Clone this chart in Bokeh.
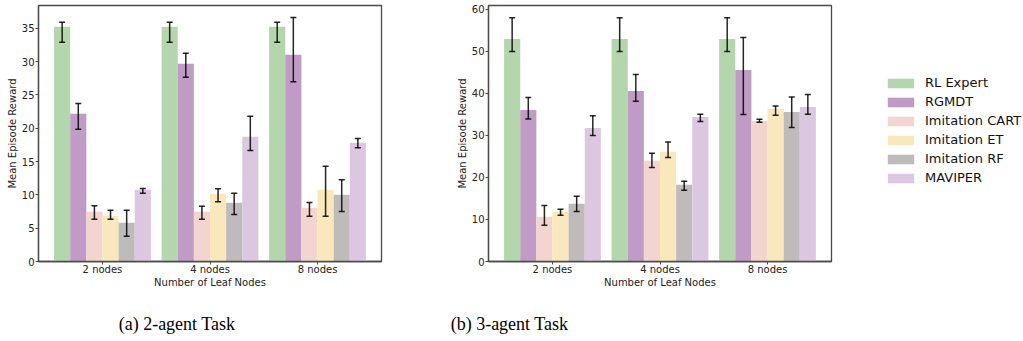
from bokeh.plotting import figure
from bokeh.models import (Range1d, FixedTicker, Whisker, ColumnDataSource, Legend,
                          LegendItem, TeeHead, Label)
from bokeh.transform import dodge
from bokeh.layouts import row, column
from bokeh.embed import file_html
from bokeh.resources import INLINE

# ---------------- data ----------------
groups = ["2 nodes", "4 nodes", "8 nodes"]
methods = ["RL Expert", "RGMDT", "Imitation CART", "Imitation ET", "Imitation RF", "MAVIPER"]
colors = ["#b3d6ac", "#c09bc5", "#f3d5cf", "#f9e8bb", "#c0bbbb", "#dbc8e0"]
captions = ["(a) 2-agent Task", "(b) 3-agent Task"]

# 2-agent task: mean, lower and upper end of error bars
task2_mean = {
    "RL Expert":      [35.2, 35.2, 35.2],
    "RGMDT":          [22.15, 29.65, 31.0],
    "Imitation CART": [7.45, 7.45, 8.05],
    "Imitation ET":   [6.85, 10.15, 10.75],
    "Imitation RF":   [5.8, 8.8, 10.0],
    "MAVIPER":        [10.75, 18.7, 17.8],
}
task2_low = {
    "RL Expert":      [32.9, 32.9, 32.9],
    "RGMDT":          [19.85, 27.65, 26.95],
    "Imitation CART": [6.35, 6.35, 6.8],
    "Imitation ET":   [6.35, 8.95, 6.8],
    "Imitation RF":   [3.8, 7.05, 7.5],
    "MAVIPER":        [10.25, 16.65, 17.05],
}
task2_high = {
    "RL Expert":      [35.9, 35.9, 35.9],
    "RGMDT":          [23.7, 31.25, 36.6],
    "Imitation CART": [8.35, 8.3, 8.85],
    "Imitation ET":   [7.7, 10.9, 14.3],
    "Imitation RF":   [7.7, 10.25, 12.25],
    "MAVIPER":        [10.95, 21.8, 18.45],
}

# 3-agent task
task3_mean = {
    "RL Expert":      [52.95, 52.95, 52.95],
    "RGMDT":          [36.06, 40.58, 45.57],
    "Imitation CART": [10.62, 23.94, 33.45],
    "Imitation ET":   [11.81, 26.08, 36.3],
    "Imitation RF":   [13.71, 18.23, 35.59],
    "MAVIPER":        [31.78, 34.4, 36.78],
}
task3_low = {
    "RL Expert":      [49.93, 49.93, 49.93],
    "RGMDT":          [33.9, 38.12, 34.95],
    "Imitation CART": [8.64, 22.35, 33.13],
    "Imitation ET":   [11.02, 24.73, 34.79],
    "Imitation RF":   [11.89, 16.96, 31.86],
    "MAVIPER":        [29.96, 33.29, 35.03],
}
task3_high = {
    "RL Expert":      [58.0, 58.0, 58.0],
    "RGMDT":          [39.0, 44.46, 53.26],
    "Imitation CART": [13.3, 25.76, 33.84],
    "Imitation ET":   [12.44, 28.45, 37.01],
    "Imitation RF":   [15.53, 19.1, 39.15],
    "MAVIPER":        [34.7, 35.03, 39.71],
}

# ---------------- styling ----------------
BAR_W = 0.15
FONT = "DejaVu Sans"
FRAME_COL = "#4a4a4a"
ROW_H = 296


def make_fig(width, mb_left, mb_right, ymax, yticks, mean, low, high):
    p = figure(width=width, height=ROW_H, x_range=Range1d(-0.595, 2.595),
               y_range=Range1d(0, ymax), toolbar_location=None, output_backend="svg",
               min_border_left=mb_left, min_border_right=mb_right,
               min_border_top=5, min_border_bottom=35)
    xs = list(range(len(groups)))
    for i, m in enumerate(methods):
        off = (i - 2.5) * BAR_W
        src = ColumnDataSource(dict(x=xs, top=mean[m], lo=low[m], hi=high[m]))
        p.vbar(x=dodge("x", off), top="top", width=BAR_W, source=src,
               fill_color=colors[i], line_color=None)
        w = Whisker(base=dodge("x", off), upper="hi", lower="lo", source=src, level="overlay",
                    line_color="black", line_width=1.5, line_alpha=0.85,
                    upper_head=TeeHead(size=6, line_color="black", line_width=1.5, line_alpha=0.85),
                    lower_head=TeeHead(size=6, line_color="black", line_width=1.5, line_alpha=0.85))
        p.add_layout(w)
    p.xgrid.visible = False
    p.ygrid.visible = False
    p.outline_line_color = FRAME_COL
    p.outline_line_width = 1.3
    p.xaxis.ticker = FixedTicker(ticks=xs)
    p.xaxis.major_label_overrides = {i: g for i, g in enumerate(groups)}
    p.yaxis.ticker = FixedTicker(ticks=yticks)
    for ax in (p.xaxis[0], p.yaxis[0]):
        ax.axis_line_color = FRAME_COL
        ax.axis_line_width = 1.3
        ax.major_tick_line_color = FRAME_COL
        ax.major_tick_out = 3
        ax.major_tick_in = 0
        ax.minor_tick_line_color = None
        ax.major_label_text_font = FONT
        ax.major_label_text_font_size = "10px"
        ax.major_label_text_color = "#222222"
        ax.axis_label_text_font = FONT
        ax.axis_label_text_font_size = "10px"
        ax.axis_label_text_font_style = "normal"
        ax.axis_label_text_color = "#222222"
    p.xaxis.major_label_standoff = -1
    p.xaxis.axis_label_standoff = -1
    p.yaxis.major_label_standoff = 1
    p.yaxis.axis_label_standoff = 1
    p.xaxis.axis_label = "Number of Leaf Nodes"
    p.yaxis.axis_label = "Mean Episode Reward"
    return p


p1 = make_fig(440, 38, 59, 38.4, list(range(0, 36, 5)), task2_mean, task2_low, task2_high)
p2 = make_fig(420, 48, 29, 60.9, list(range(0, 61, 10)), task3_mean, task3_low, task3_high)

# legend panel: one zero-height bar per method supplies each swatch colour
leg_fig = figure(width=162, height=ROW_H, x_range=Range1d(0, 1), y_range=Range1d(0, 1),
                 toolbar_location=None, output_backend="svg", min_border=0)
leg_fig.axis.visible = False
leg_fig.xgrid.visible = False
leg_fig.ygrid.visible = False
leg_fig.outline_line_color = None
leg_src = ColumnDataSource(dict(x=list(range(len(methods))), top=[0] * len(methods),
                                color=colors, label=methods))
leg_r = leg_fig.vbar(x="x", top="top", bottom=0, width=BAR_W, fill_color="color",
                     line_color=None, source=leg_src)
items = [LegendItem(label=m, renderers=[leg_r], index=i) for i, m in enumerate(methods)]
legend = Legend(items=items, location=(24, 76), orientation="vertical",
                glyph_width=33, glyph_height=12, label_height=12, label_standoff=8,
                spacing=4, padding=0, margin=0,
                label_text_font=FONT, label_text_font_size="13px", label_text_color="#111111",
                border_line_color=None, background_fill_alpha=0)
leg_fig.add_layout(legend)

cap = figure(width=1022, height=41, x_range=Range1d(0, 1022), y_range=Range1d(337, 296),
             toolbar_location=None, output_backend="svg", min_border=0)
cap.axis.visible = False
cap.xgrid.visible = False
cap.ygrid.visible = False
cap.outline_line_color = None
for txt, cx in zip(captions, [176.5, 509.0]):
    cap.add_layout(Label(x=cx, y=323, text=txt, text_align="center", text_baseline="middle",
                         text_font="Liberation Serif", text_font_size="18px", text_color="black"))

layout = column(row(p1, p2, leg_fig), cap)

open("out.html", "w").write(file_html(layout, INLINE))
